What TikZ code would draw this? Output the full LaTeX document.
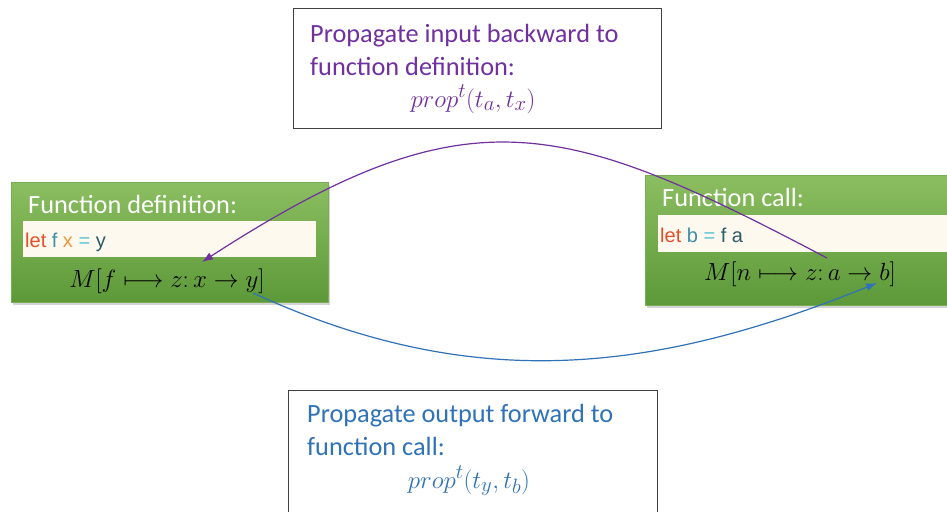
\documentclass[tikz,border=0pt]{standalone}
\usepackage{fontspec}
\setmainfont{Carlito}
\newfontfamily\codefont{Liberation Sans}
\usetikzlibrary{arrows.meta,shadows}

\definecolor{propPurple}{HTML}{7030A0}
\definecolor{propBlue}{HTML}{2F72B8}
\definecolor{boxGray}{HTML}{404040}
\definecolor{greenTop}{HTML}{8BBE61}
\definecolor{greenBot}{HTML}{5D9939}
\definecolor{greenEdge}{HTML}{79AE55}
\definecolor{codeCream}{HTML}{FEF9EE}
\definecolor{kwRed}{HTML}{E0512B}
\definecolor{idTeal}{HTML}{3E8FAA}
\definecolor{idOrange}{HTML}{EE9640}
\definecolor{opCyan}{HTML}{5CC3D6}
\definecolor{idDark}{HTML}{2C5C68}

\tikzset{
  notebox/.style={draw=boxGray, fill=white, line width=0.9pt, inner sep=0pt},
  greenbox/.style={draw=greenEdge, line width=0.6pt, top color=greenTop, bottom color=greenBot,
    inner sep=0pt, drop shadow={shadow xshift=2pt, shadow yshift=-3pt, opacity=0.35}},
  codestrip/.style={fill=codeCream, inner sep=0pt},
  bigtext/.style={inner sep=0pt, font=\fontsize{26.3}{33}\selectfont},
  codetext/.style={inner sep=0pt, font=\codefont\fontsize{20}{24}\selectfont},
  mathtext/.style={inner sep=0pt, font=\fontsize{25}{30}\selectfont},
  proptext/.style={inner sep=0pt, font=\fontsize{30}{34}\selectfont},
  flow/.style={line width=1.2pt, -{Latex[length=11pt,width=8pt]}}
}

\begin{document}
\begin{tikzpicture}[x=1pt,y=-1pt]
  \clip (0,0) rectangle (947,511);
  %% Note boxes
  \node[notebox, minimum width=368pt, minimum height=120pt] (backBox) at (477,68) {};
  \node[notebox, minimum width=369pt, minimum height=130pt] (fwdBox) at (472.5,455) {};
  %% Top note
  \node[bigtext, text=propPurple, anchor=base west] (backLineA) at (310,42) {Propagate input backward to};
  \node[bigtext, text=propPurple, anchor=base west] (backLineB) at (310,75) {function definition:};
  \node[proptext, text=propPurple, anchor=base] (backProp) at (473,107) {$prop^{t}(t_a, t_x)$};
  %% Bottom note
  \node[bigtext, text=propBlue, anchor=base west] (fwdLineA) at (307,422) {Propagate output forward to};
  \node[bigtext, text=propBlue, anchor=base west] (fwdLineB) at (307,455) {function call:};
  \node[proptext, text=propBlue, anchor=base] (fwdProp) at (469,488) {$prop^{t}(t_y, t_b)$};

  %% Function definition
  \node[greenbox, minimum width=317pt, minimum height=120pt] (defBox) at (169.5,242) {};
  \node[bigtext, text=white, anchor=base west] (defTitle) at (28,213) {Function definition:};
  \node[codestrip, minimum width=293pt, minimum height=36pt, anchor=north west] (defCode) at (23,221) {};
  \node[codetext, anchor=base west] (defLet) at (25,247)
    {\textcolor{kwRed}{let} \textcolor{idTeal}{f} \textcolor{idOrange}{x} \textcolor{opCyan}{=} \textcolor{idDark}{y}};
  \node[mathtext, anchor=base] (defMap) at (167,287) {$M[f \longmapsto z{:}\, x \to y]$};

  %% Function call
  \node[greenbox, minimum width=312pt, minimum height=130pt] (callBox) at (801,240) {};
  \node[bigtext, text=white, anchor=base west] (callTitle) at (662,206) {Function call:};
  \node[codestrip, minimum width=290pt, minimum height=37pt, anchor=north west] (callCode) at (658,215) {};
  \node[codetext, anchor=base west] (callLet) at (660,242)
    {\textcolor{kwRed}{let} \textcolor{idTeal}{b} \textcolor{opCyan}{=} \textcolor{idDark}{f a}};
  \node[mathtext, anchor=base] (callMap) at (800,280) {$M[n \longmapsto z{:}\, a \to b]$};

  %% Ends of the connectors
  \coordinate (callA) at (827,258);
  \coordinate (defX) at (202,262);
  \coordinate (defY) at (253,293);
  \coordinate (callB) at (877,283);

  %% Propagation arrows
  \draw[flow, draw=propPurple] (callA) .. controls (561,118) and (468,90) .. (defX);
  \draw[flow, draw=propBlue] (defY) .. controls (469,392) and (647,376) .. (callB);
\end{tikzpicture}
\end{document}
